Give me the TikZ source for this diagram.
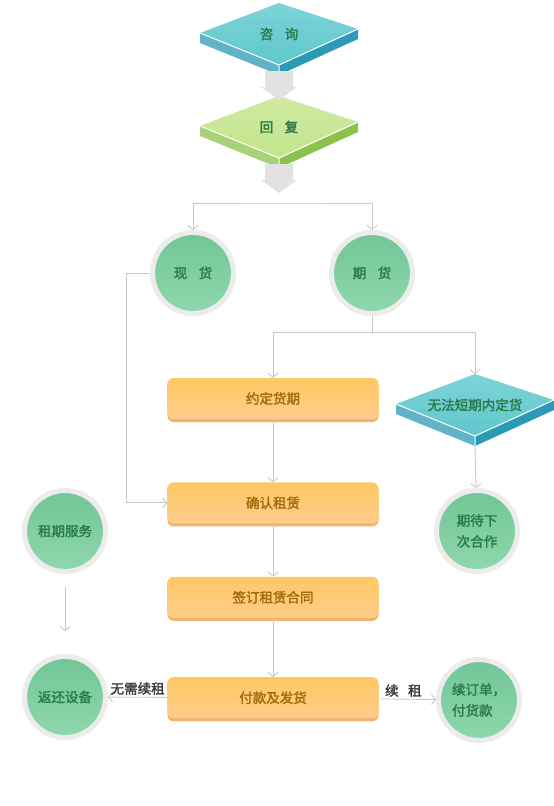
\documentclass[tikz,border=0pt]{standalone}
\usepackage{fontspec}
\newfontfamily\cjk{Noto Sans CJK SC}[AutoFakeBold=2]
\usetikzlibrary{arrows.meta,positioning,shadows,calc}

\definecolor{tealtop}{HTML}{5EC8CD}
\definecolor{tealside}{HTML}{2C9AB4}
\definecolor{limetop}{HTML}{C3E48A}
\definecolor{limeside}{HTML}{8CC24C}
\definecolor{balltop}{HTML}{72C596}
\definecolor{ballbot}{HTML}{8ED8AC}
\definecolor{balltext}{HTML}{2B7A4B}
\definecolor{ringgray}{HTML}{ECECEC}
\definecolor{orangetop}{HTML}{FFC862}
\definecolor{orangebot}{HTML}{FECD8C}
\definecolor{orangeedge}{HTML}{F2B36C}
\definecolor{stagetext}{HTML}{A26A0A}
\definecolor{linegray}{HTML}{C8C8C8}
\definecolor{notetext}{HTML}{3A3A3A}
\definecolor{blockgray}{HTML}{E2E2E2}

% isometric slab: name, centre, top colour, side colour, text
\newcommand{\slab}[5]{%
  \begin{scope}[shift={#2}]
    \fill[#4!75!white] (-79,-1) -- (0,31) -- (0,41) -- (-79,9) -- cycle;
    \fill[#4] (0,31) -- (79,-5) -- (79,5) -- (0,41) -- cycle;
    \shade[top color=#3!80!white, bottom color=#3] (0,-31) -- (79,-5) -- (0,31) -- (-79,-1) -- cycle;
    \draw[white, line width=1pt] (-79,-1) -- (0,31) -- (79,-5) (0,31) -- (0,41);
    \coordinate (#1-top) at (0,-31);
    \coordinate (#1-bot) at (0,41);
  \end{scope}
  \node[slabtext] (#1) at #2 {#5};
}

\begin{document}
\begin{tikzpicture}[
    x=1pt, y=-1pt,
    font=\cjk\bfseries\fontsize{13.5}{21}\selectfont,
    node distance=0mm,
    >={Straight Barb[length=4pt,width=10pt]},
    slabtext/.style={text=balltext, inner sep=0pt},
    ball/.style={circle, draw=ringgray, line width=5pt, minimum size=81pt, inner sep=0pt, top color=balltop, bottom color=ballbot, text=balltext, align=center},
    stage/.style={rounded corners=6pt, minimum width=211pt, minimum height=41pt, top color=orangetop, bottom color=orangebot, text=stagetext, drop shadow={shadow xshift=0pt, shadow yshift=-3pt, fill=orangeedge, opacity=1}},
    link/.style={draw=linegray, line width=0.9pt, ->},
    note/.style={text=notetext, inner sep=2pt},
    blockarrow/.style={fill=blockgray}
]
\useasboundingbox[fill=white] (0,0) rectangle (554,806);

% slabs
\slab{zixun}{(279,34)}{tealtop}{tealside}{咨\hspace{0.85em}询}
\slab{huifu}{(279,127)}{limetop}{limeside}{回\hspace{0.85em}复}
\slab{wufa}{(475,405)}{tealtop}{tealside}{无法短期内定货}

\foreach \s in {zixun,huifu}
  \fill[blockarrow] ($(\s-bot)+(-14,-4)$) -- ++(28,0) -- ++(0,16) -- ++(4,0)
    -- ++(-18,13) -- ++(-18,-13) -- ++(4,0) -- cycle;

% circles
\node[ball] (xianhuo) at (193,273) {现\hspace{0.85em}货};
\node[ball] (qihuo) at (372,273) {期\hspace{0.85em}货};
\node[ball] (qidai) at (477,531) {期待下\\次合作};
\node[ball] (zuqi) at (65,531) {租期服务};
\node[ball] (fanhuan) at (65,697) {返还设备};
\node[ball, align=left] (xuding) at (479,700) {续订单，\\付货款};

% stages
\node[stage] (yueding) at (273,398.5) {约定货期};
\node[stage, below=63pt of yueding] (queren) {确认租赁};
\node[stage, below=53pt of queren] (qianding) {签订租赁合同};
\node[stage, below=59pt of qianding] (fukuan) {付款及发货};

% connectors
\coordinate (fork) at (282,203);
\coordinate (fork2) at (372,332);
\draw[link, <->] (xianhuo) |- (fork) -| (qihuo);
\draw[link] (xianhuo.west) -- ++(-24,0) |- (queren.west);
\draw[link] (qihuo) |- (fork2) -| (yueding);
\draw[link] (fork2) -| (wufa-top);
\draw[link] (yueding) -- (queren);
\draw[link] (queren) -- (qianding);
\draw[link] (qianding) -- (fukuan);
\draw[link] (wufa-bot) -- (qidai);
\draw[link, shorten <=13pt, shorten >=23pt] (zuqi) -- (fanhuan);
\draw[link] (fukuan) -- node[note, above] {无需续租} (fanhuan);
\draw[link, shorten <=3pt] (fukuan) -- node[note, above, xshift=-4pt] {续\hspace{0.7em}租} (xuding);
\end{tikzpicture}
\end{document}
